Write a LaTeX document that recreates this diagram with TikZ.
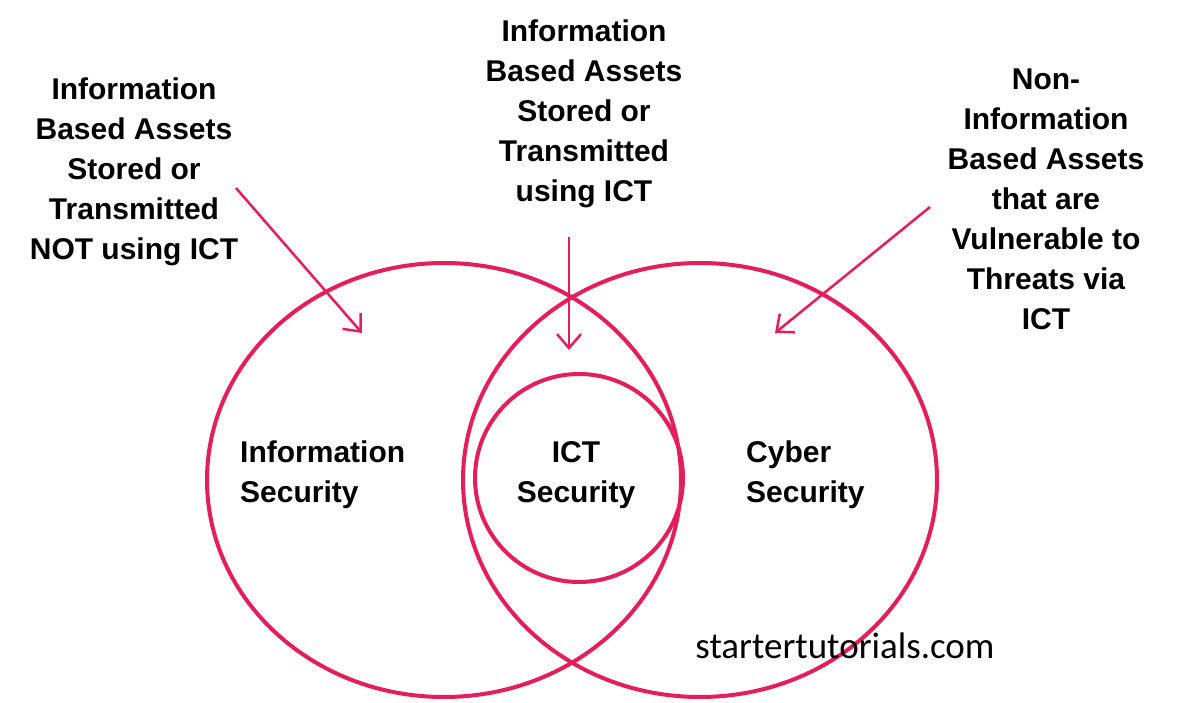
\documentclass[tikz,border=0pt]{standalone}
\usepackage{fontspec}
\setmainfont{Liberation Sans}
\newfontfamily\wm{Carlito}
\usetikzlibrary{arrows.meta}
\definecolor{pk}{RGB}{228,30,90}
\begin{document}
\begin{tikzpicture}[x=1pt,y=-1pt,
  ring/.style={draw=pk,line width=4pt},
  lbl/.style={font=\fontsize{30}{40}\selectfont\bfseries,align=center,inner sep=0},
  arr/.style={draw=pk,line width=2.5pt,-{Straight Barb[length=14pt,width=24pt,line width=2.5pt]}}]
\useasboundingbox (0,0) rectangle (1179,703);
\fill[white] (0,0) rectangle (1179,703);
\draw[ring] (444,480) ellipse [x radius=237,y radius=217];
\draw[ring] (700,480) ellipse [x radius=237,y radius=217];
\draw[ring] (579,478) circle [radius=104];
\node[lbl] (tl) at (134,172) {Information\\Based Assets\\Stored or\\Transmitted\\NOT using ICT};
\node[lbl] (tm) at (584,114) {Information\\Based Assets\\Stored or\\Transmitted\\using ICT};
\node[lbl] (tr) at (1046,199) {Non-\\Information\\Based Assets\\that are\\Vulnerable to\\Threats via\\ICT};
\node[lbl,align=left,anchor=west] (is) at (240,475) {Information\\Security};
\node[lbl] (ict) at (576,475) {ICT\\Security};
\node[lbl,align=left,anchor=west] (cs) at (746,475) {Cyber\\Security};
\node[font=\wm\fontsize{37}{40}\selectfont,inner sep=0] (wm) at (845,646) {startertutorials.com};
\coordinate (a1s) at (236,188); \coordinate (a1e) at (362,333);
\coordinate (a2s) at (569,237); \coordinate (a2e) at (569,350);
\coordinate (a3s) at (930,207); \coordinate (a3e) at (775,333);
\draw[arr] (a1s) -- (a1e);
\draw[arr] (a2s) -- (a2e);
\draw[arr] (a3s) -- (a3e);
\end{tikzpicture}
\end{document}
